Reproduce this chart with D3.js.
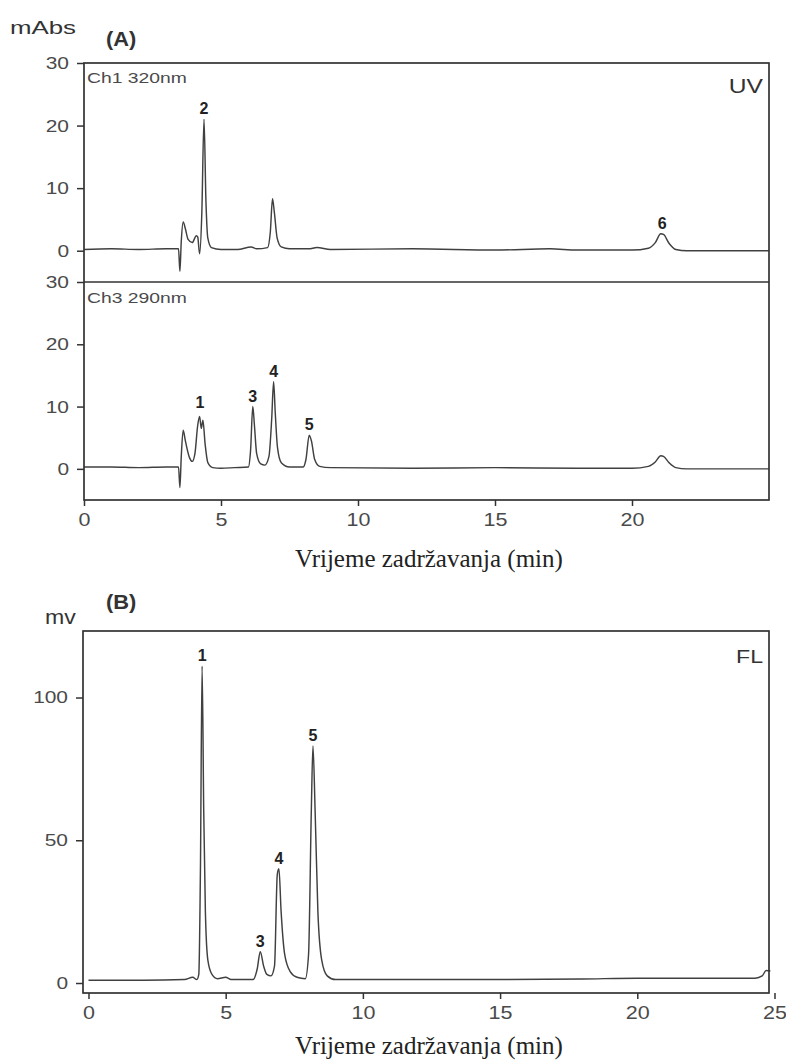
<!DOCTYPE html>
<html><head><meta charset="utf-8">
<script src="https://cdn.jsdelivr.net/npm/d3@7/dist/d3.min.js"></script>
<style>body{margin:0;background:#fff}svg{display:block}</style>
</head><body>
<svg id="c" width="786" height="1061"></svg>
<script>
// ---- data (time in min, signal) ----
const uvCh1 = [[0,0.2],[1,0.3],[2,0.2],[3,0.3],[3.45,0.3],[3.5,-3.3],[3.55,1.5],[3.62,4.6],[3.7,3.5],[3.8,1.8],[3.95,1.3],[4.1,2.4],[4.15,2.2],[4.22,-0.5],[4.3,6],[4.38,21],[4.45,8],[4.52,2.0],[4.65,0.5],[5,0.2],[5.6,0.2],[6.1,0.6],[6.3,0.3],[6.7,0.5],[6.8,3],[6.88,8.3],[6.95,6],[7.05,2],[7.2,0.6],[7.5,0.3],[8.2,0.3],[8.5,0.5],[9,0.2],[12,0.3],[15,0.1],[17,0.3],[18,0.1],[20,0.1],[20.6,0.4],[20.85,1.3],[21.05,2.7],[21.15,2.6],[21.35,1.2],[21.6,0.2],[22,0.0],[24,0.0],[25,0.0]];
const uvCh3 = [[0,0.3],[1,0.3],[2,0.2],[3,0.3],[3.45,0.3],[3.5,-3],[3.55,2],[3.62,6.2],[3.7,4.5],[3.85,1.8],[3.95,1.2],[4.05,2.5],[4.15,7],[4.22,8.4],[4.28,6.5],[4.34,7.8],[4.42,4.0],[4.52,1.0],[4.7,0.2],[5,0.1],[5.5,0.2],[6.0,0.3],[6.08,3],[6.16,10],[6.22,7],[6.3,2.5],[6.45,0.8],[6.6,0.6],[6.75,2],[6.85,8],[6.92,14],[6.98,9],[7.06,3.5],[7.2,1],[7.5,0.3],[8.0,0.3],[8.1,1.5],[8.22,5.4],[8.3,4.5],[8.42,1.5],[8.6,0.4],[9,0.2],[12,0.1],[15,0.2],[18,0.1],[20,0.1],[20.6,0.4],[20.85,1.1],[21.05,2.1],[21.15,2.0],[21.35,1.0],[21.6,0.2],[22,0],[25,0]];
const flTrace = [[0,1],[2,1],[3.5,1.2],[3.8,2],[3.95,1.2],[4.02,3],[4.08,40],[4.14,111],[4.2,60],[4.26,25],[4.35,8],[4.5,3],[4.7,1.5],[5.0,2],[5.2,1.2],[6.0,1.2],[6.15,5],[6.26,11],[6.38,6],[6.5,3],[6.65,2.5],[6.78,6],[6.88,38],[6.94,40],[7.02,25],[7.15,10],[7.35,4],[7.6,2],[7.9,1.5],[8.02,10],[8.12,60],[8.18,83],[8.26,60],[8.36,25],[8.5,8],[8.7,2.5],[9,1.2],[12,1.2],[15,1.2],[18,1.4],[20,1.7],[22,1.7],[24.3,1.7],[24.55,2.5],[24.7,4.4],[24.85,4.2]];
// label: [text, time, signal level under label]
const peaksCh1 = [["2",4.38,21],["6",21.1,2.7]];
const peaksCh3 = [["1",4.23,9.0],["3",6.16,10],["4",6.92,14],["5",8.22,5.4]];
const peaksFL  = [["1",4.14,111],["3",6.26,11],["4",6.94,40],["5",8.18,83]];
const ticksXA = [0,5,10,15,20];
const ticksXB = [0,5,10,15,20,25];
const ticksYA = [0,10,20,30];
const ticksYB = [0,50,100];
const xTitle = "Vrijeme zadržavanja (min)";

const svg = d3.select("#c");
const ink = "#333";
const sans = "Liberation Sans, Arial, sans-serif";
const serif = "Liberation Serif, Times New Roman, serif";
const SX = 1.23; // horizontal stretch of the original figure's lettering

function label(g, x, y, txt, size, opts={}){
  const sx = opts.sx ?? SX;
  return g.append("text")
    .attr("transform",`translate(${x},${y}) scale(${sx},1)`)
    .attr("text-anchor", opts.anchor || "start")
    .attr("font-family", opts.family || sans)
    .attr("font-size", size)
    .attr("font-weight", opts.weight || "normal")
    .attr("fill", opts.fill || "#333")
    .text(txt);
}
function drawTrace(g, data, x, y){
  g.append("path").datum(data)
    .attr("fill","none").attr("stroke","#404040").attr("stroke-width",1.45)
    .attr("stroke-linejoin","round")
    .attr("d", d3.line().x(d=>x(d[0])).y(d=>y(d[1])).curve(d3.curveMonotoneX));
}
function drawPeakLabels(g, peaks, x, y){
  g.selectAll(null).data(peaks).enter().append("text")
    .attr("x", d=>x(d[1])).attr("y", d=>y(d[2])-5)
    .attr("text-anchor","middle").attr("font-family",sans)
    .attr("font-weight","bold").attr("font-size",16).attr("fill","#222")
    .text(d=>d[0]);
}
function yAxis(g, y, ticks, left){
  const ax = g.append("g").attr("transform",`translate(${left},0)`)
    .call(d3.axisLeft(y).tickValues(ticks).tickSize(7).tickSizeOuter(0));
  ax.select(".domain").remove();
  ax.selectAll("line").attr("stroke",ink).attr("stroke-width",1.5);
  ax.selectAll("text").attr("x",0).attr("transform",`translate(-15,0) scale(${SX},1)`)
    .attr("font-family",sans).attr("font-size",17).attr("fill","#4a4a4a");
}
function xAxis(g, x, ticks, bottom){
  const ax = g.append("g").attr("transform",`translate(0,${bottom})`)
    .call(d3.axisBottom(x).tickValues(ticks).tickSize(6).tickPadding(8).tickSizeOuter(0));
  ax.select(".domain").remove();
  ax.selectAll("line").attr("stroke",ink).attr("stroke-width",1.5);
  ax.selectAll("text").attr("transform",`scale(${SX},1)`)
    .attr("font-family",sans).attr("font-size",17.5).attr("fill","#4a4a4a");
}
function frame(g, l, t, r, b){
  g.append("rect").attr("x",l).attr("y",t).attr("width",r-l).attr("height",b-t)
    .attr("fill","none").attr("stroke",ink).attr("stroke-width",1.7);
}

// ---- Panel A ----
const A = {l:84, r:769, t:63, mid:282, b:500};
const xA = d3.scaleLinear().domain([0,25]).range([A.l, A.r]);
const y1 = d3.scaleLinear().domain([-5,30]).range([A.mid, A.t]);
const y3 = d3.scaleLinear().domain([-5,30]).range([A.b, A.mid]);
const gA = svg.append("g");
drawTrace(gA, uvCh1, xA, y1);
drawTrace(gA, uvCh3, xA, y3);
frame(gA, A.l, A.t, A.r, A.b);
gA.append("line").attr("x1",A.l).attr("x2",A.r).attr("y1",A.mid).attr("y2",A.mid).attr("stroke",ink).attr("stroke-width",1.4);
yAxis(gA, y1, ticksYA, A.l);
yAxis(gA, y3, ticksYA, A.l);
xAxis(gA, xA, ticksXA, A.b);
drawPeakLabels(gA, peaksCh1, xA, y1);
drawPeakLabels(gA, peaksCh3, xA, y3);
label(gA, 87, 83, "Ch1 320nm", 14, {sx:1.38, fill:"#4a4a4a"});
label(gA, 87, 303, "Ch3 290nm", 14, {sx:1.38, fill:"#4a4a4a"});
label(gA, 763, 93, "UV", 20.5, {anchor:"end", sx:1.2});
label(gA, 10, 34, "mAbs", 19, {sx:1.36});
label(gA, 106, 46, "(A)", 19.5, {sx:1.12, weight:"bold"});
gA.append("text").attr("x",429).attr("y",567).attr("text-anchor","middle")
  .attr("font-family",serif).attr("font-size",25).attr("fill","#222").text(xTitle);

// ---- Panel B ----
const B = {l:83, r:769, t:631, b:993};
const xB = d3.scaleLinear().domain([-0.2,24.8]).range([B.l, B.r]);
const yB = d3.scaleLinear().domain([-3.5,123.3]).range([B.b, B.t]);
const gB = svg.append("g");
drawTrace(gB, flTrace, xB, yB);
frame(gB, B.l, B.t, B.r, B.b);
yAxis(gB, yB, ticksYB, B.l);
xAxis(gB, xB, ticksXB, B.b);
drawPeakLabels(gB, peaksFL, xB, yB);
label(gB, 763, 663, "FL", 18.5, {anchor:"end", sx:1.25});
label(gB, 45, 624, "mv", 21, {sx:1.1});
label(gB, 106, 609, "(B)", 19.5, {sx:1.12, weight:"bold"});
gB.append("text").attr("x",429).attr("y",1054).attr("text-anchor","middle")
  .attr("font-family",serif).attr("font-size",25).attr("fill","#222").text(xTitle);
</script>
</body></html>
